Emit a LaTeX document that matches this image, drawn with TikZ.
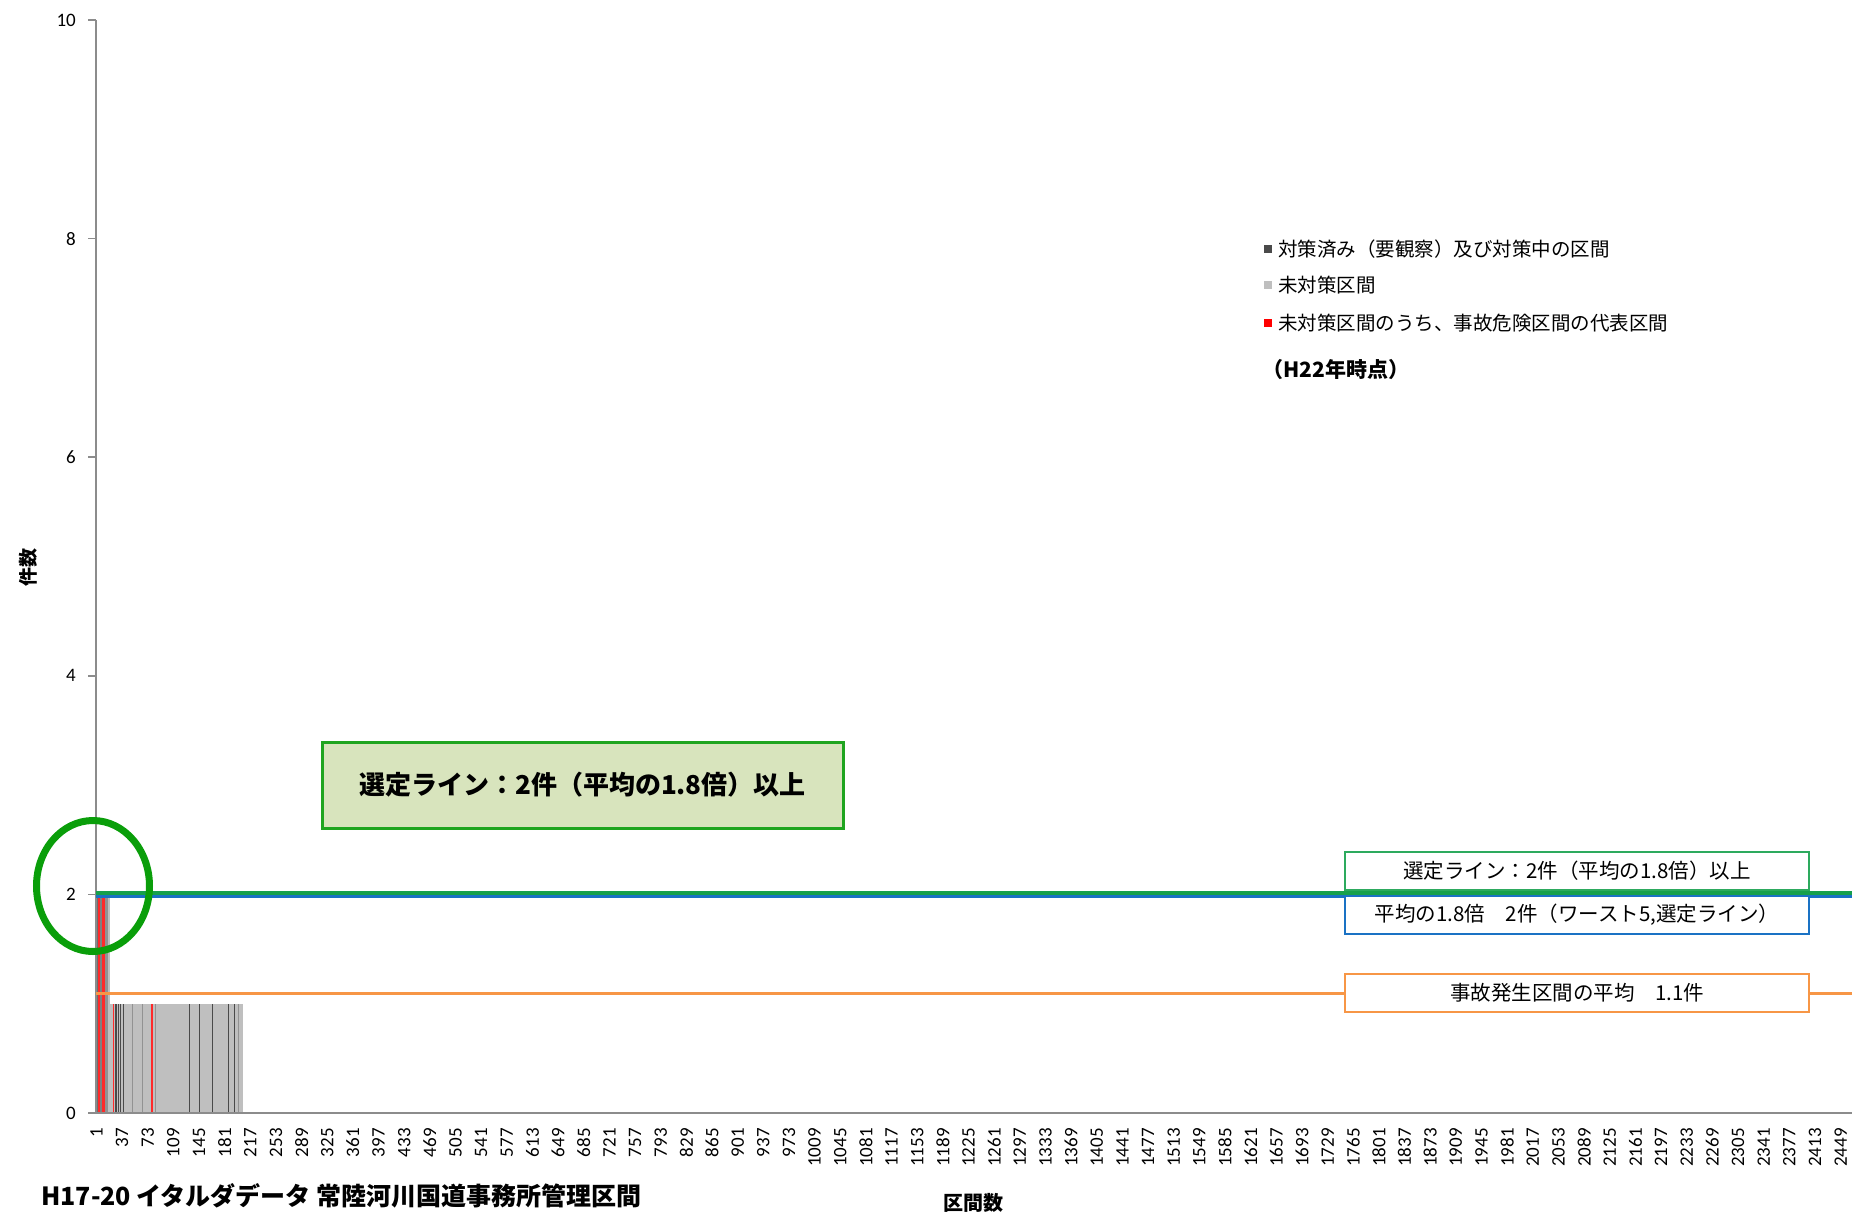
\documentclass[tikz,border=0pt]{standalone}
\usepackage{fontspec}
\setmainfont{Carlito}
\newfontfamily\jp{Noto Sans CJK JP}
\usetikzlibrary{positioning}

\definecolor{axisgray}{HTML}{8C8C8C}
\definecolor{bargray}{HTML}{BFBFBF}
\definecolor{bardark}{HTML}{4A4A4A}
\definecolor{barred}{HTML}{FF2A2A}
\definecolor{selgreen}{HTML}{16A04C}
\definecolor{avgblue}{HTML}{1A72C4}
\definecolor{avgorange}{HTML}{F79646}
\definecolor{ringgreen}{HTML}{0A9E0A}
\definecolor{notefill}{HTML}{D8E4BD}
\definecolor{noteborder}{HTML}{1FA51F}

\newcommand{\px}[1]{\fontsize{#1}{#1}\selectfont}

\begin{document}
\begin{tikzpicture}[
		x=1pt, y=-1pt,
		axisline/.style={draw=axisgray, line width=1.5pt},
		ytick/.style={anchor=east, inner sep=0pt, font=\px{19}},
		xtick/.style={anchor=east, rotate=90, inner sep=0pt, font=\px{19}},
		barline/.style={line width=1.3pt},
		linebox/.style={draw, line width=2pt, fill=white, minimum width=464pt, minimum height=38pt, inner sep=0pt, font=\jp\px{20.5}},
		legsq/.style={minimum size=8pt, inner sep=0pt},
		legtext/.style={anchor=west, inner sep=0pt, font=\jp\px{19.5}}
	]
  \useasboundingbox (0,0) rectangle (1856,1213);

  % bars
  \fill[bargray] (95,895) rectangle (110,1113);
  \fill[bargray] (110,1004) rectangle (243,1113);
  \fill[bardark!80] (95,895) rectangle (97.5,1113);
  \fill[barred] (97.5,895) rectangle (105,1113);
  \draw[barline, bardark!70] (101,895) -- (101,1113);
  \fill[bardark!60] (105,895) rectangle (107.5,1113);
  \foreach \x in {116,118.3,120.7,123.3,189.3,199.3,212.3,228.7,234.3}
    \draw[barline, bardark] (\x,1004) -- (\x,1113);
  \foreach \x in {132.7,142.7,155.3,238.3}
    \draw[barline, bardark!60] (\x,1004) -- (\x,1113);
  \foreach \x in {113.5,152}
    \draw[barline, barred] (\x,1004) -- (\x,1113);

  % axes
  \coordinate (o) at (96,1113);
  \coordinate (ytop) at (96,20);
  \coordinate (xend) at (1852,1113);
  \draw[axisline] (ytop) -- (o) -- (xend);
  \foreach \v in {0,2,...,10} {
    \coordinate (t\v) at (88,{1113-109.3*\v});
    \draw[axisline] (t\v) -- ++(8,0);
    \node[ytick] (y\v) at (76,{1113-109.3*\v}) {\v};
  }
  \foreach \i in {0,...,68} {
    \pgfmathtruncatemacro\lab{1+36*\i}
    \node[xtick] (x\i) at ({96.4+25.65*\i},1128) {\lab};
  }
  \node (ylab) [rotate=90, font=\jp\bfseries\px{19}] at (28,567) {件数};
  \node (xlab) [font=\jp\bfseries\px{20}] at (973,1203) {区間数};
  \node (title) [anchor=west, inner sep=0pt, font=\jp\bfseries\px{25}] at (41,1196) {H17-20\ イタルダデータ\ 常陸河川国道事務所管理区間};

  % reference lines
  \coordinate (g0) at (96,892.5);
  \coordinate (g1) at (1852,892.5);
  \coordinate (b0) at (96,896.5);
  \coordinate (b1) at (1852,896.5);
  \coordinate (a0) at (96,993);
  \coordinate (a1) at (1852,993);
  \draw[avgorange, line width=3pt] (a0) -- (a1);
  \draw[selgreen, line width=4pt] (g0) -- (g1);
  \draw[avgblue, line width=3pt] (b0) -- (b1);

  \node (selbox) [linebox, draw=selgreen!90] at (1577,871) {選定ライン：2件（平均の1.8倍）以上};
  \node (avgbox) [linebox, draw=avgblue] at (1577,915) {平均の1.8倍　2件（ワースト5,選定ライン）};
  \node (accbox) [linebox, draw=avgorange] at (1577,993) {事故発生区間の平均　1.1件};

  % callout
  \draw[ringgreen, line width=7pt] (93,886) ellipse [x radius=56.5, y radius=65.5];
  \node (note) [draw=noteborder, line width=3pt, fill=notefill, minimum width=521pt, minimum height=86pt, font=\jp\bfseries\px{26}] at (582.5,785) {選定ライン：2件（平均の1.8倍）以上};

  % legend
  \node (sq1) [legsq, fill=bardark] at (1268,249) {};
  \node (sq2) [legsq, fill=bargray] at (1268,285) {};
  \node (sq3) [legsq, fill=red] at (1268,323) {};
  \node (lg1) [legtext, right=6pt of sq1] {対策済み（要観察）及び対策中の区間};
  \node (lg2) [legtext, right=6pt of sq2] {未対策区間};
  \node (lg3) [legtext, right=6pt of sq3] {未対策区間のうち、事故危険区間の代表区間};
  \node (stamp) [anchor=west, inner sep=0pt, font=\jp\bfseries\px{21}] at (1262,370) {（H22年時点）};
\end{tikzpicture}
\end{document}
